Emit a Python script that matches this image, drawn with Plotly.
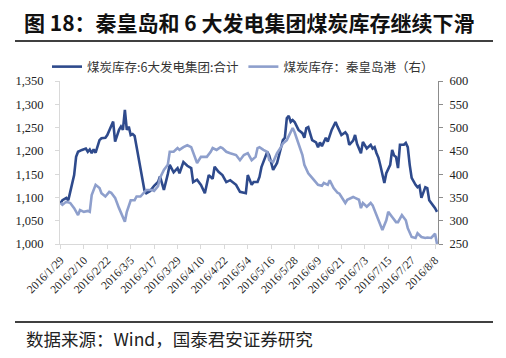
import plotly.graph_objects as go

# ---- data ----
dates_power = ["2016-01-29","2016-01-30","2016-02-01","2016-02-02","2016-02-03","2016-02-05","2016-02-06","2016-02-07","2016-02-09","2016-02-11","2016-02-12","2016-02-13","2016-02-14","2016-02-15","2016-02-16","2016-02-18","2016-02-19","2016-02-21","2016-02-22","2016-02-24","2016-02-25","2016-02-26","2016-02-28","2016-02-29","2016-03-01","2016-03-02","2016-03-03","2016-03-04","2016-03-05","2016-03-06","2016-03-07","2016-03-08","2016-03-09","2016-03-10","2016-03-11","2016-03-12","2016-03-13","2016-03-15","2016-03-17","2016-03-18","2016-03-19","2016-03-20","2016-03-22","2016-03-24","2016-03-25","2016-03-27","2016-03-29","2016-03-30","2016-04-01","2016-04-03","2016-04-05","2016-04-06","2016-04-08","2016-04-10","2016-04-12","2016-04-14","2016-04-16","2016-04-17","2016-04-19","2016-04-21","2016-04-23","2016-04-25","2016-04-28","2016-04-30","2016-05-03","2016-05-04","2016-05-06","2016-05-07","2016-05-09","2016-05-10","2016-05-11","2016-05-13","2016-05-14","2016-05-15","2016-05-17","2016-05-19","2016-05-21","2016-05-22","2016-05-23","2016-05-24","2016-05-25","2016-05-26","2016-05-27","2016-05-28","2016-05-30","2016-06-01","2016-06-02","2016-06-03","2016-06-04","2016-06-05","2016-06-06","2016-06-08","2016-06-09","2016-06-10","2016-06-11","2016-06-13","2016-06-14","2016-06-16","2016-06-18","2016-06-19","2016-06-21","2016-06-23","2016-06-24","2016-06-25","2016-06-27","2016-06-28","2016-06-29","2016-07-01","2016-07-02","2016-07-04","2016-07-06","2016-07-07","2016-07-08","2016-07-09","2016-07-10","2016-07-11","2016-07-12","2016-07-13","2016-07-14","2016-07-16","2016-07-17","2016-07-18","2016-07-19","2016-07-20","2016-07-21","2016-07-23","2016-07-24","2016-07-25","2016-07-26","2016-07-27","2016-07-29","2016-07-30","2016-07-31","2016-08-01","2016-08-03","2016-08-04","2016-08-05","2016-08-07","2016-08-08","2016-08-09"]
stock_power = [1088,1094,1099,1094,1112,1148,1187,1198,1202,1205,1198,1203,1195,1203,1196,1223,1227,1228,1234,1252,1263,1220,1245,1252,1245,1288,1245,1252,1234,1236,1232,1209,1185,1166,1144,1116,1109,1114,1125,1129,1133,1145,1116,1150,1170,1154,1163,1152,1176,1168,1163,1133,1138,1127,1109,1148,1140,1166,1155,1148,1133,1137,1127,1112,1109,1148,1127,1133,1133,1144,1165,1187,1198,1190,1159,1174,1206,1223,1228,1270,1275,1262,1266,1262,1245,1238,1228,1249,1251,1238,1223,1218,1208,1218,1210,1228,1220,1245,1262,1252,1234,1240,1234,1213,1222,1234,1215,1195,1219,1205,1213,1205,1208,1195,1185,1168,1148,1131,1152,1170,1202,1190,1187,1163,1213,1213,1217,1208,1170,1142,1127,1122,1125,1099,1122,1120,1094,1084,1077,1069]

dates_qhd = ["2016-01-29","2016-01-30","2016-02-01","2016-02-03","2016-02-05","2016-02-07","2016-02-08","2016-02-10","2016-02-12","2016-02-13","2016-02-14","2016-02-16","2016-02-18","2016-02-19","2016-02-21","2016-02-23","2016-02-24","2016-02-26","2016-02-28","2016-03-01","2016-03-02","2016-03-03","2016-03-05","2016-03-07","2016-03-08","2016-03-10","2016-03-12","2016-03-13","2016-03-16","2016-03-17","2016-03-19","2016-03-20","2016-03-22","2016-03-24","2016-03-25","2016-03-27","2016-03-29","2016-03-30","2016-04-01","2016-04-03","2016-04-05","2016-04-06","2016-04-08","2016-04-10","2016-04-11","2016-04-13","2016-04-15","2016-04-16","2016-04-18","2016-04-20","2016-04-21","2016-04-23","2016-04-25","2016-04-28","2016-04-30","2016-05-02","2016-05-04","2016-05-05","2016-05-06","2016-05-08","2016-05-09","2016-05-10","2016-05-12","2016-05-14","2016-05-15","2016-05-17","2016-05-19","2016-05-21","2016-05-22","2016-05-24","2016-05-26","2016-05-27","2016-05-28","2016-05-30","2016-06-01","2016-06-02","2016-06-04","2016-06-06","2016-06-08","2016-06-09","2016-06-11","2016-06-12","2016-06-14","2016-06-15","2016-06-17","2016-06-19","2016-06-20","2016-06-22","2016-06-23","2016-06-24","2016-06-27","2016-06-28","2016-06-30","2016-07-01","2016-07-02","2016-07-04","2016-07-06","2016-07-07","2016-07-09","2016-07-11","2016-07-12","2016-07-14","2016-07-15","2016-07-17","2016-07-19","2016-07-20","2016-07-22","2016-07-24","2016-07-25","2016-07-27","2016-07-29","2016-07-30","2016-08-01","2016-08-03","2016-08-04","2016-08-06","2016-08-08","2016-08-09"]
stock_qhd = [338,334,341,338,327,312,323,319,321,319,355,377,370,359,352,362,360,349,327,306,298,319,344,344,352,352,362,366,366,364,374,392,409,420,448,448,456,452,458,462,458,445,424,437,437,437,448,456,452,458,456,448,445,441,430,441,445,437,430,437,456,458,452,448,430,426,445,458,466,473,490,499,490,466,441,420,402,392,381,377,375,381,377,387,370,360,358,345,338,345,351,349,345,327,338,330,338,333,312,291,280,301,319,308,297,297,312,301,284,265,263,273,265,263,264,263,272,250]

tick_dates = ["2016-01-29","2016-02-10","2016-02-22","2016-03-05","2016-03-17","2016-03-29","2016-04-10","2016-04-22","2016-05-04","2016-05-16","2016-05-28","2016-06-09","2016-06-21","2016-07-03","2016-07-15","2016-07-27","2016-08-08"]
tick_labels = ["2016/1/29","2016/2/10","2016/2/22","2016/3/5","2016/3/17","2016/3/29","2016/4/10","2016/4/22","2016/5/4","2016/5/16","2016/5/28","2016/6/9","2016/6/21","2016/7/3","2016/7/15","2016/7/27","2016/8/8"]
left_ticks = [1000, 1050, 1100, 1150, 1200, 1250, 1300, 1350]
right_ticks = [250, 300, 350, 400, 450, 500, 550, 600]

name_power = "煤炭库存:6大发电集团:合计"
name_qhd = "煤炭库存：秦皇岛港（右）"
title_text = "图 18：秦皇岛和 6 大发电集团煤炭库存继续下滑"
source_text = "数据来源：Wind，国泰君安证券研究"

# ---- layout geometry (pixels) ----
W, H = 506, 358
L, R, T, B = 60, 438, 81, 244


def px(x):
    return (x - L) / (R - L)


def py(y):
    return (B - y) / (B - T)


DARK = "#2E4A8C"
LIGHT = "#8E9FCC"
SERIF = "Liberation Serif, Times New Roman, serif"
CJK = "Noto Sans CJK SC, sans-serif"

fig = go.Figure()
fig.add_trace(go.Scatter(x=dates_power, y=stock_power, name=name_power, mode="lines",
                         line=dict(color=DARK, width=2.6), yaxis="y"))
fig.add_trace(go.Scatter(x=dates_qhd, y=stock_qhd, name=name_qhd, mode="lines",
                         line=dict(color=LIGHT, width=2.6), yaxis="y2"))

fig.update_layout(
    width=W, height=H,
    margin=dict(l=L, r=W - R, t=T, b=H - B, pad=0),
    paper_bgcolor="white", plot_bgcolor="white",
    showlegend=True,
    legend=dict(orientation="h", x=px(47), y=py(67), xanchor="left", yanchor="middle",
                font=dict(family=CJK, size=12.5, color="#333"), itemwidth=30,
                tracegroupgap=0, bgcolor="rgba(0,0,0,0)"),
    xaxis=dict(type="date", range=["2016-01-28 18:00", "2016-08-09 12:00"],
               tickvals=tick_dates, ticktext=tick_labels, tickangle=-45,
               showline=True, linecolor="#D9D9D9", linewidth=1,
               ticks="outside", ticklen=4, tickcolor="#D9D9D9",
               showgrid=False, zeroline=False,
               tickfont=dict(family=SERIF, size=11.5, color="#222")),
    yaxis=dict(range=[1000, 1350], tickvals=left_ticks, tickformat=",d",
               showline=True, linecolor="#D9D9D9", linewidth=1,
               ticks="outside", ticklen=4, tickcolor="#D9D9D9",
               ticklabelstandoff=9,
               showgrid=False, zeroline=False,
               tickfont=dict(family=SERIF, size=12.5, color="#222")),
    yaxis2=dict(range=[250, 600], tickvals=right_ticks, overlaying="y", side="right",
                showline=True, linecolor="#8C8C8C", linewidth=1,
                ticks="outside", ticklen=4, tickcolor="#8C8C8C",
                ticklabelstandoff=4,
                showgrid=False, zeroline=False,
                tickfont=dict(family=SERIF, size=12.5, color="#222")),
)

fig.add_annotation(text="<b>" + title_text + "</b>", xref="paper", yref="paper",
                   x=px(249), y=py(22), xanchor="center", yanchor="middle",
                   showarrow=False, font=dict(family=CJK, size=21, color="#111"))
fig.add_annotation(text=source_text, xref="paper", yref="paper",
                   x=px(24), y=py(338), xanchor="left", yanchor="middle",
                   showarrow=False, font=dict(family=CJK, size=17.5, color="#222"))

for yy in (41, 322):
    fig.add_shape(type="line", xref="paper", yref="paper",
                  x0=px(15), x1=px(493), y0=py(yy), y1=py(yy),
                  line=dict(color="black", width=1.5))

fig.write_html("out.html", config={"displayModeBar": False},
               post_script="document.body.style.margin='0';")
